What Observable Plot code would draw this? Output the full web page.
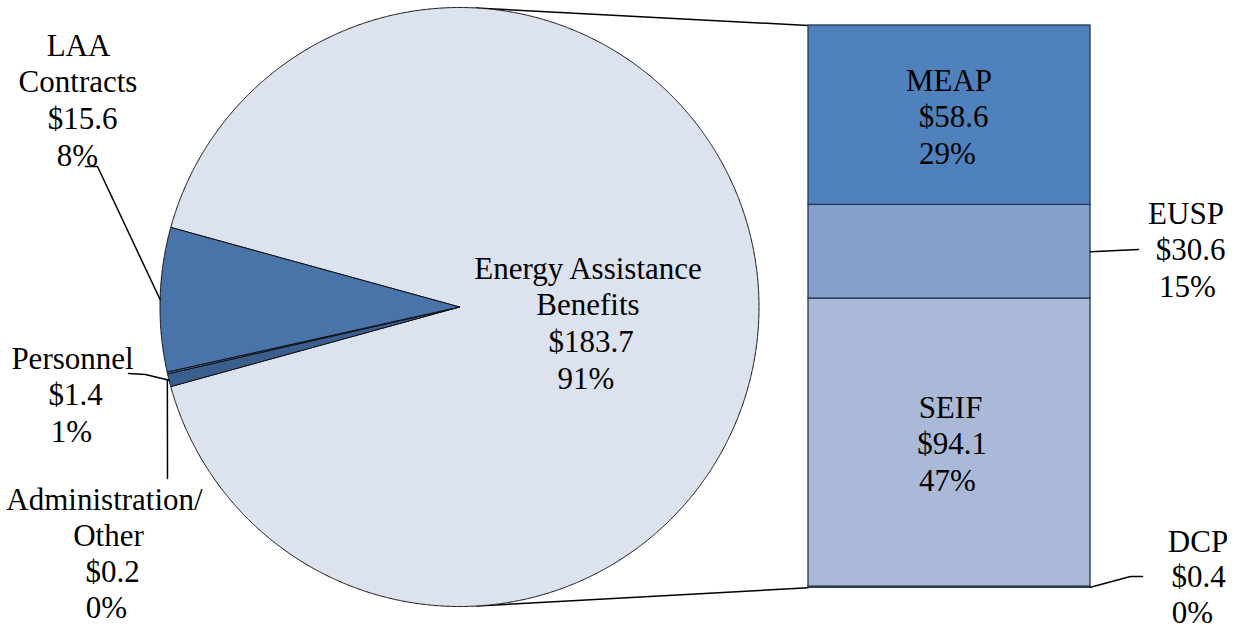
<!DOCTYPE html>
<html>
<head>
<meta charset="utf-8">
<script src="https://cdn.jsdelivr.net/npm/d3@7"></script>
<script src="https://cdn.jsdelivr.net/npm/@observablehq/plot@0.6"></script>
<style>
  html, body { margin: 0; padding: 0; background: #ffffff; }
  #chart svg { display: block; }
</style>
</head>
<body>
<div id="chart"></div>
<script>
// ---------- DATA ----------
const pieCategories = ["Energy Assistance Benefits", "Personnel", "Administration/Other", "LAA Contracts"];
const pieValues = [183.7, 1.4, 0.2, 15.6];
const barCategories = ["DCP", "SEIF", "EUSP", "MEAP"];   // bottom to top
const barValues = [0.4, 94.1, 30.6, 58.6];
const labelNames = {
  "Energy Assistance Benefits": ["Energy Assistance", "Benefits"],
  "Personnel": ["Personnel"],
  "Administration/Other": ["Administration/", "Other"],
  "LAA Contracts": ["LAA", "Contracts"],
  "DCP": ["DCP"], "SEIF": ["SEIF"], "EUSP": ["EUSP"], "MEAP": ["MEAP"]
};

// ---------- STYLE / LAYOUT ----------
const W = 1237, H = 629;
const K = 299.5;             // pixels per unit radius
const CX = 459, CY = 306.5;  // pie centre in pixels
const px = (x) => (x - CX) / K;
const py = (y) => (CY - y) / K;
const colorDomain = [...pieCategories, ...barCategories];
const colorRange = ["#DCE2EE", "#3A5F8F", "#4A76AD", "#4874AA", "#C5D0E6", "#AAB9D7", "#85A0CB", "#4F81BD"];

const total = d3.sum(pieValues);
const barTotal = d3.sum(barValues);
const pct = (v) => Math.round(v / total * 100) + "%";

// ---------- PIE GEOMETRY ----------
const pieData = pieCategories.map((c, i) => ({cat: c, value: pieValues[i]}));
const startA = Math.PI / 2 - Math.PI * pieValues[0] / total; // centre the big slice on the right
const arcs = d3.pie().sort(null).value(d => d.value).startAngle(startA).endAngle(startA + 2 * Math.PI)(pieData);
const arcByCat = new Map(arcs.map(a => [a.data.cat, a]));
const piePts = arcs.flatMap(a => {
  const n = Math.max(4, Math.ceil((a.endAngle - a.startAngle) / 0.004));
  const pts = [{cat: a.data.cat, x: 0, y: 0}];
  for (let i = 0; i <= n; i++) {
    const t = a.startAngle + (a.endAngle - a.startAngle) * i / n;
    pts.push({cat: a.data.cat, x: Math.sin(t), y: Math.cos(t)});
  }
  pts.push({cat: a.data.cat, x: 0, y: 0});
  return pts;
});
const edgePoint = (cat) => {
  const a = arcByCat.get(cat);
  const t = (a.startAngle + a.endAngle) / 2;
  return {x: Math.sin(t), y: Math.cos(t)};
};

// ---------- BAR GEOMETRY ----------
const barX1 = px(808), barX2 = px(1090);
const barBottom = py(587.3), barTop = py(25);
const barScale = (v) => barBottom + v / barTotal * (barTop - barBottom);
let cum = 0;
const barData = barCategories.map((c, i) => {
  const d = {cat: c, value: barValues[i], x1: barX1, x2: barX2, y1: barScale(cum), y2: barScale(cum + barValues[i])};
  cum += barValues[i];
  return d;
});
const barByCat = new Map(barData.map(d => [d.cat, d]));

// connector lines: tangents from bar corners to the pie circle
function tangent(cx, cy, sign) {
  const d = Math.hypot(cx, cy);
  const phi = Math.atan2(cy, cx) + sign * Math.acos(1 / d);
  return {x1: Math.cos(phi), y1: Math.sin(phi), x2: cx, y2: cy};
}
const connectors = [tangent(barX1, barTop, +1), tangent(barX1, barBottom, -1)];

// ---------- LEADER LINES ----------
const laaEdge = edgePoint("LAA Contracts");
const perEdge = edgePoint("Personnel");
const admEdge = edgePoint("Administration/Other");
const euspMid = (barByCat.get("EUSP").y1 + barByCat.get("EUSP").y2) / 2;
const dcpMid = (barByCat.get("DCP").y1 + barByCat.get("DCP").y2) / 2;
const leaders = [
  {id: "laa", x: px(85), y: py(166)}, {id: "laa", x: px(97), y: py(166)}, {id: "laa", ...laaEdge},
  {id: "per", x: px(128), y: py(373)}, {id: "per", x: px(145), y: py(374)}, {id: "per", ...perEdge},
  {id: "adm", x: px(167), y: py(478)}, {id: "adm", x: admEdge.x, y: py(379)},
  {id: "eusp", x: barX2, y: euspMid}, {id: "eusp", x: px(1138), y: py(249)},
  {id: "dcp", x: barX2, y: dcpMid}, {id: "dcp", x: px(1130), y: py(576)}, {id: "dcp", x: px(1142), y: py(576)}
];

// ---------- LABELS ----------
const valueOf = new Map([...pieCategories.map((c, i) => [c, pieValues[i]]), ...barCategories.map((c, i) => [c, barValues[i]])]);
const labelLayout = [
  {cat: "LAA Contracts", xs: [78, 77.5, 82, 77], y0: 55, step: 36.7},
  {cat: "Personnel", xs: [72, 75, 71], y0: 368, step: 36.7},
  {cat: "Administration/Other", xs: [104, 108, 112, 106], y0: 509, step: 36.3},
  {cat: "Energy Assistance Benefits", xs: [587.5, 587.5, 590.5, 585.5], y0: 278, step: 36.7},
  {cat: "MEAP", xs: [948.5, 953, 947], y0: 90, step: 36.7},
  {cat: "EUSP", xs: [1185.5, 1190, 1187], y0: 223, step: 36.7},
  {cat: "SEIF", xs: [950, 951.5, 947], y0: 417, step: 36.7},
  {cat: "DCP", xs: [1197.5, 1198, 1192], y0: 551, step: 35.5}
];
const labels = labelLayout.flatMap(L => {
  const v = valueOf.get(L.cat);
  const lines = [...labelNames[L.cat], "$" + v.toFixed(1), pct(v)];
  return lines.map((t, i) => ({text: t, x: px(L.xs[i]), y: py(L.y0 + i * L.step)}));
});

// ---------- PLOT ----------
const chart = Plot.plot({
  width: W,
  height: H,
  margin: 0,
  x: {domain: [px(0), px(W)], axis: null},
  y: {domain: [py(H), py(0)], axis: null},
  color: {type: "ordinal", domain: colorDomain, range: colorRange},
  style: {background: "#ffffff", fontFamily: "'Liberation Serif', 'Times New Roman', serif", overflow: "visible"},
  marks: [
    Plot.link(connectors, {x1: "x1", y1: "y1", x2: "x2", y2: "y2", stroke: "#000", strokeWidth: 1.5}),
    Plot.line(piePts, {x: "x", y: "y", z: "cat", fill: "cat", stroke: "#111", strokeWidth: 1, strokeLinejoin: "round"}),
    Plot.rect(barData, {x1: "x1", x2: "x2", y1: "y1", y2: "y2", fill: "cat", stroke: "#25364d", strokeWidth: 1.3}),
    Plot.line(leaders, {x: "x", y: "y", z: "id", stroke: "#000", strokeWidth: 1.5}),
    Plot.text(labels, {x: "x", y: "y", text: "text", textAnchor: "middle", lineAnchor: "bottom", fontSize: 31, fill: "#000"})
  ]
});
document.getElementById("chart").appendChild(chart);
</script>
</body>
</html>
